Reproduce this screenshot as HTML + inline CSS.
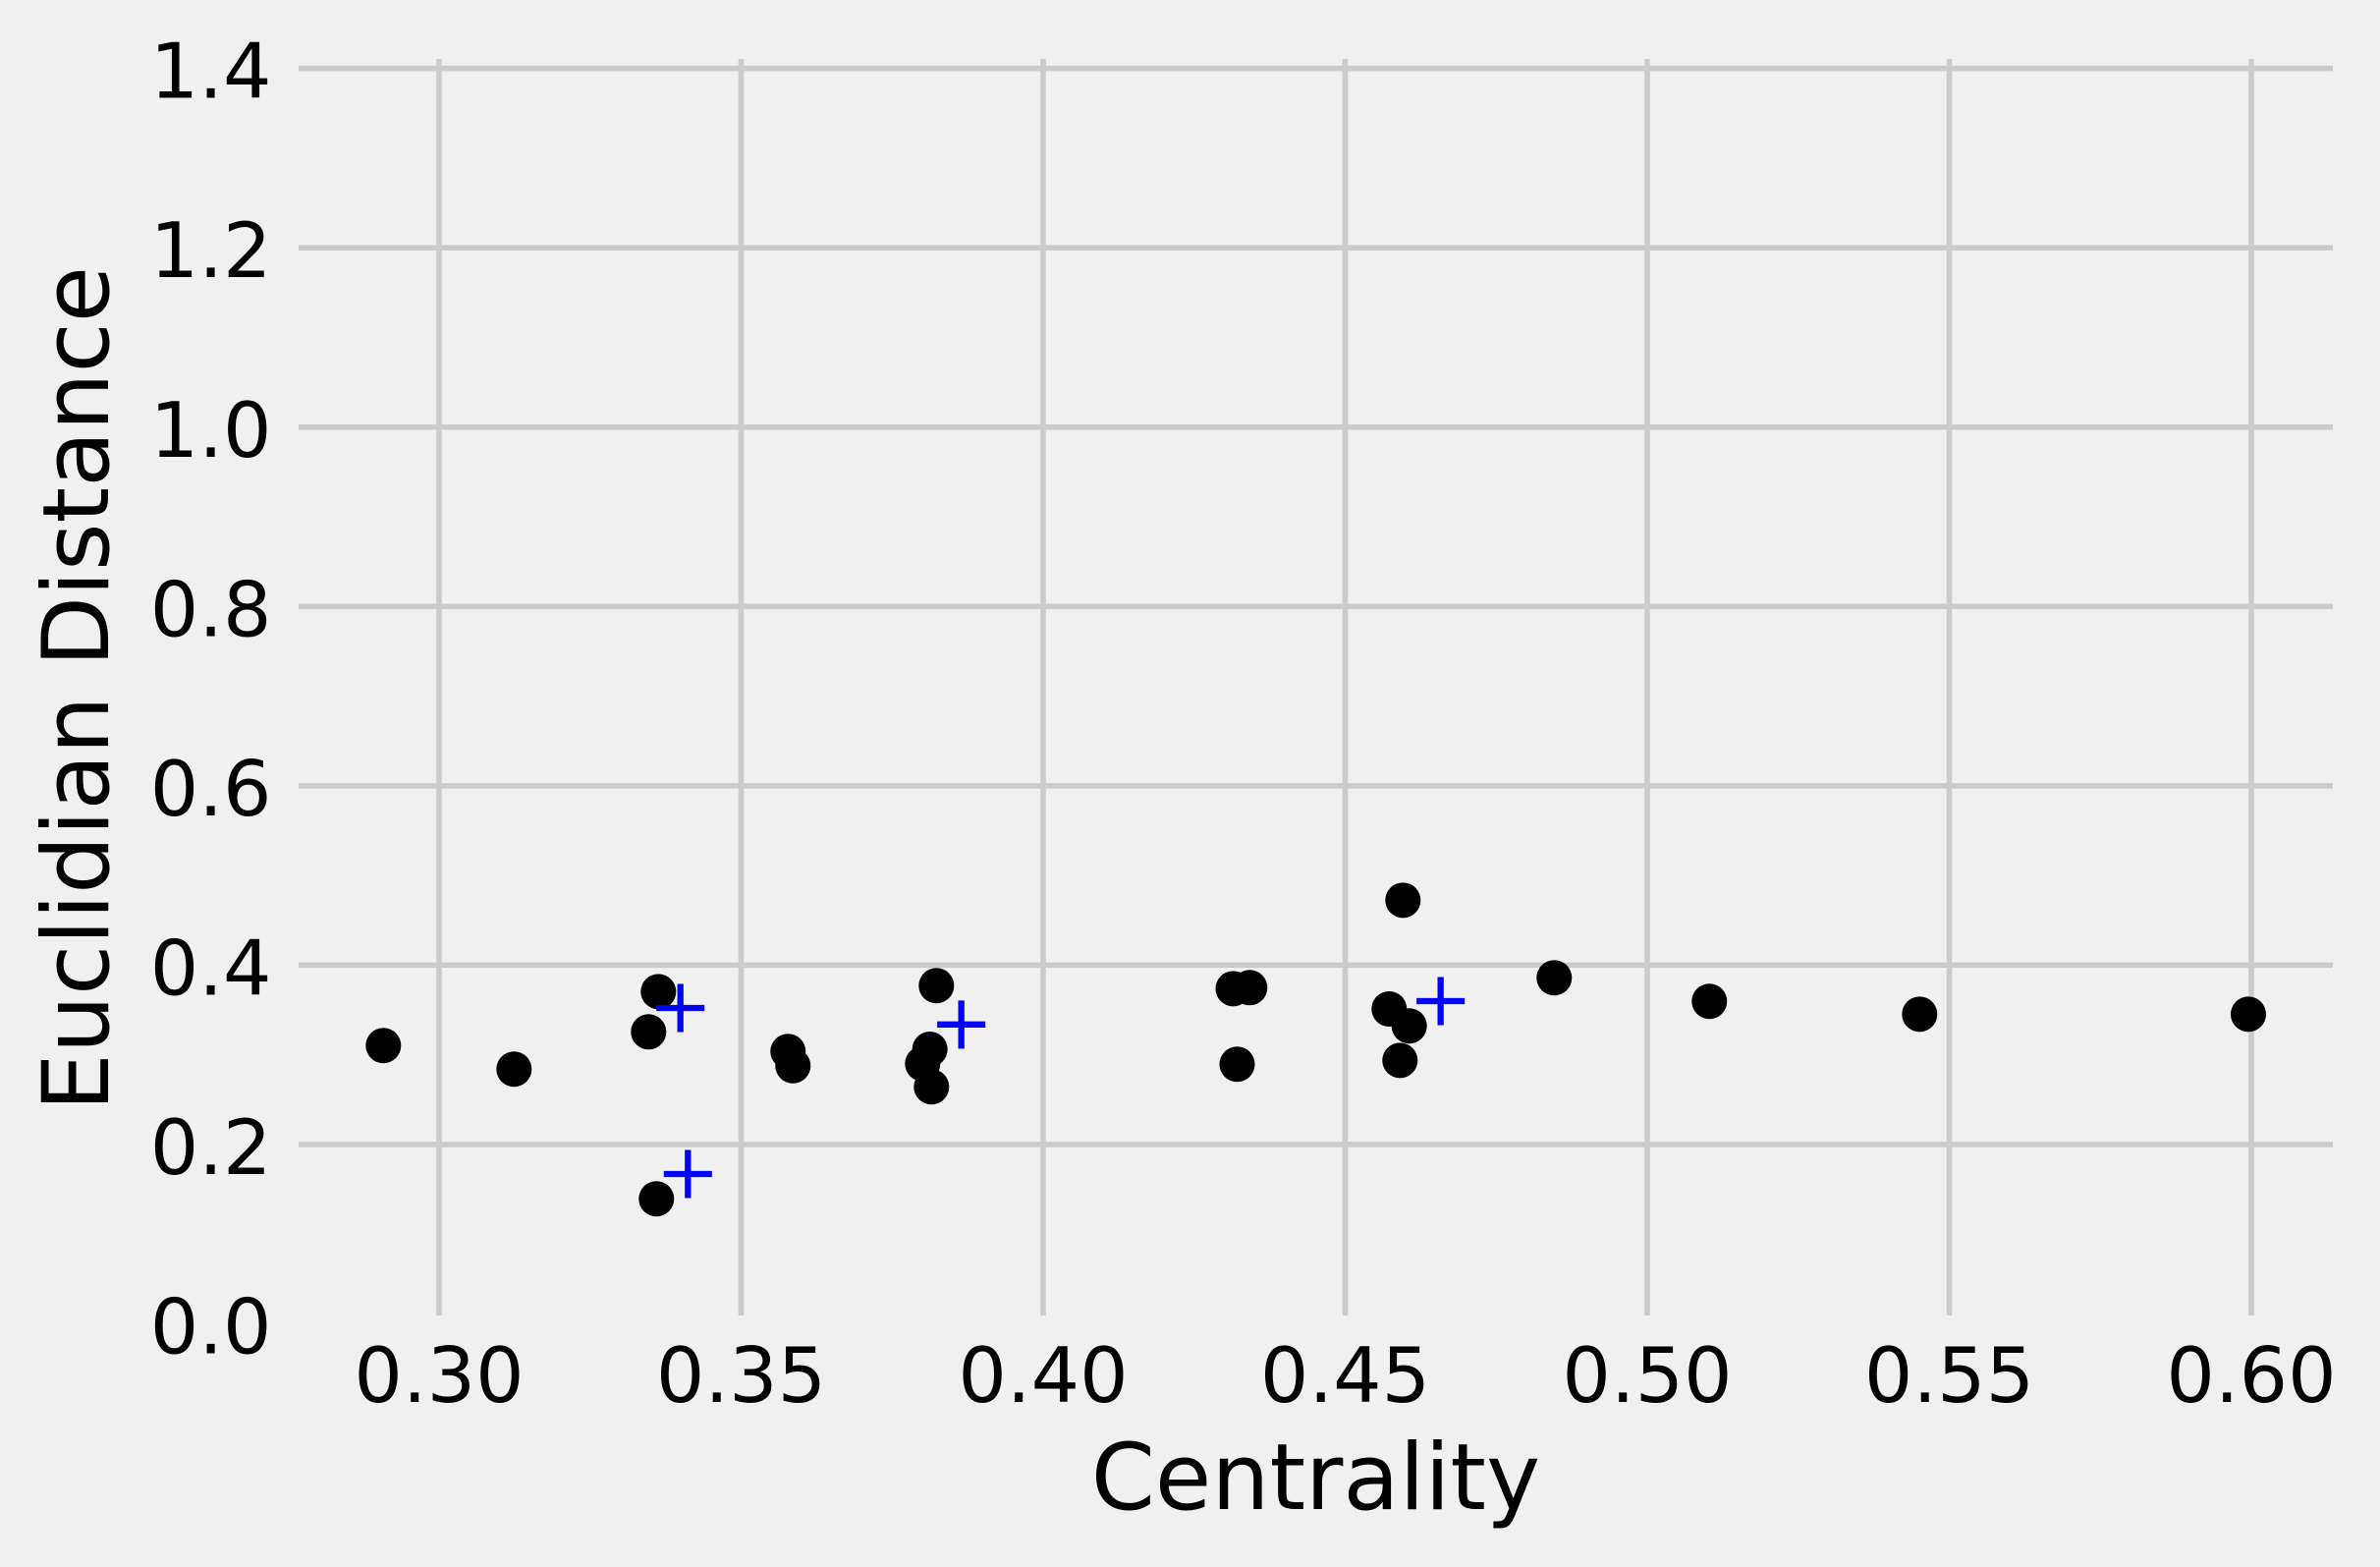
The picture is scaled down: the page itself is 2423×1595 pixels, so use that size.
<!DOCTYPE html>
<html lang="en">
<head>
<meta charset="utf-8">
<title>Centrality vs Euclidian Distance</title>
<style>
html,body{margin:0;padding:0;background:#f0f0f0;width:2423px;height:1595px;overflow:hidden}
svg{display:block}
text{font-family:"DejaVu Sans","Liberation Sans",sans-serif;fill:#000}
</style>
</head>
<body>
<svg id="chart" xmlns="http://www.w3.org/2000/svg" width="2423" height="1595" viewBox="0 0 2423 1595">
<rect x="0" y="0" width="2423" height="1595" fill="#f0f0f0"/>
<g id="grid"></g>
<g id="yticks"></g>
<g id="xticks"></g>
<g id="dots"></g>
<g id="plus"></g>
<text x="1339.5" y="1536" font-size="93.3" text-anchor="middle">Centrality</text>
<text transform="translate(110 701) rotate(-90)" font-size="93.3" text-anchor="middle">Euclidian Distance</text>
</svg>
<script>
const xTickValues = [0.30, 0.35, 0.40, 0.45, 0.50, 0.55, 0.60];
const xTickLabels = ["0.30", "0.35", "0.40", "0.45", "0.50", "0.55", "0.60"];
const yTickValues = [0.0, 0.2, 0.4, 0.6, 0.8, 1.0, 1.2, 1.4];
const yTickLabels = ["0.0", "0.2", "0.4", "0.6", "0.8", "1.0", "1.2", "1.4"];
const dotCentrality = [0.29078, 0.31241, 0.33468, 0.33631, 0.33598, 0.35777, 0.35858, 0.38233, 0.38005, 0.38125, 0.38151, 0.43146, 0.43419, 0.43211, 0.45956, 0.45728, 0.46060, 0.45907, 0.48460, 0.51029, 0.54509, 0.59951];
const dotDistance = [0.3103, 0.2840, 0.3256, 0.3705, 0.1394, 0.3037, 0.2879, 0.3771, 0.2901, 0.3062, 0.2643, 0.3738, 0.3749, 0.2895, 0.4724, 0.3511, 0.3322, 0.2938, 0.3859, 0.3596, 0.3453, 0.3453];
const plusCentrality = [0.33995, 0.34119, 0.38645, 0.46580];
const plusDistance = [0.3522, 0.1671, 0.3338, 0.3599];

const NS = 'http://www.w3.org/2000/svg';
const plotLeft = 304, plotRight = 2375, plotTop = 60, plotBottom = 1339;
const xPos = v => 447 + (v - 0.30) * 6150;
const yPos = v => 1347.5 - v * 912.75;

function make(tag, attrs, parent) {
  const el = document.createElementNS(NS, tag);
  for (const k in attrs) el.setAttribute(k, attrs[k]);
  parent.appendChild(el);
  return el;
}
const gridG = document.getElementById('grid');
const xG = document.getElementById('xticks');
const yG = document.getElementById('yticks');
const dotsG = document.getElementById('dots');
const plusG = document.getElementById('plus');
const gridStyle = {stroke: '#cbcbcb', 'stroke-width': 5.56};

xTickValues.forEach((v, i) => {
  const x = xPos(v);
  const line = make('line', {x1: x, x2: x, y1: plotTop, y2: plotBottom, ...gridStyle}, gridG);
  
  
  const t = make('text', {x: x, y: 1427, 'font-size': 77.8, 'text-anchor': 'middle'}, xG);
  t.textContent = xTickLabels[i];
  
  
});
yTickValues.forEach((v, i) => {
  const y = yPos(v);
  if (y >= plotTop && y <= plotBottom) {
    const line = make('line', {x1: plotLeft, x2: plotRight, y1: y, y2: y, ...gridStyle}, gridG);
    
    
  }
  const t = make('text', {x: 276.5, y: y + 30, 'font-size': 77.8, 'text-anchor': 'end'}, yG);
  t.textContent = yTickLabels[i];
  
  
});
dotCentrality.forEach((v, i) => {
  const c = make('circle', {cx: xPos(v), cy: yPos(dotDistance[i]), r: 18, fill: '#000'}, dotsG);
  
  
});
plusCentrality.forEach((v, i) => {
  const x = xPos(v), y = yPos(plusDistance[i]);
  const p = make('path', {d: `M${x - 24.5} ${y}H${x + 24.5}M${x} ${y - 24.5}V${y + 24.5}`, stroke: '#0000ff', 'stroke-width': 6.3, fill: 'none'}, plusG);
  
  
});
</script>
</body>
</html>
